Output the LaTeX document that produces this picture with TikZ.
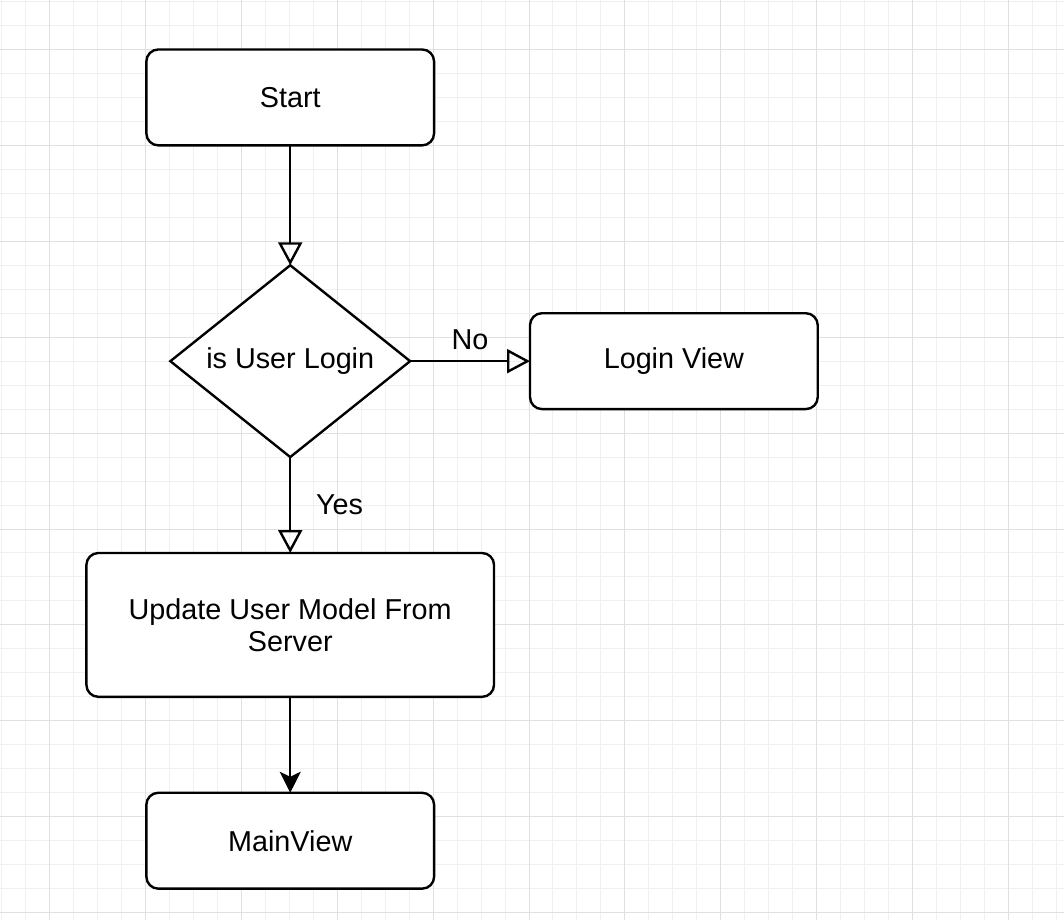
\documentclass[tikz,border=0pt]{standalone}
\usepackage{fontspec}
\setmainfont{Liberation Sans}
\usetikzlibrary{positioning,shapes.geometric,arrows.meta}

\begin{document}
\begin{tikzpicture}[x=0.5pt,y=-0.5pt,font=\fontsize{14.4pt}{16pt}\selectfont]%
  \tikzstyle{boxn}=[rectangle,rounded corners=6pt,draw,line width=1.2pt,fill=white,outer sep=0pt,minimum width=144pt,minimum height=48pt,inner sep=2]
  \tikzstyle{decn}=[diamond,draw,line width=1.2pt,fill=white,outer sep=0pt,aspect=1.25,minimum width=120pt,minimum height=96pt,inner sep=0]
  \tikzstyle{flow}=[line width=1.2pt,-{Triangle[open,length=11.5pt,width=12pt]}]
  \tikzstyle{flowf}=[line width=1.2pt,-{Stealth[length=10.5pt,width=10.5pt,inset=2.5pt]}]
  \tikzstyle{minor}=[black!6,line width=0.5pt]
  \tikzstyle{major}=[black!12,line width=0.5pt]
  % grid
  \fill[white] (0,0) rectangle (1064,920);
  \foreach \g in {1,25,...,1064} {\draw[minor] (\g,0) -- (\g,920);}
  \foreach \g in {1,25,...,920} {\draw[minor] (0,\g) -- (1064,\g);}
  \foreach \g in {49,145,...,1064} {\draw[major] (\g,0) -- (\g,920);}
  \foreach \g in {49,145,...,920} {\draw[major] (0,\g) -- (1064,\g);}
  \useasboundingbox (0,0) rectangle (1064,920);
  % flow
  \node(start)[boxn] at (290,97) {Start};
  \node(login)[decn,below=60pt of start] {is User Login};
  \node(loginview)[boxn,right=60pt of login] {Login View};
  \node(update)[boxn,below=48pt of login,minimum width=204pt,minimum height=72pt,align=center] {Update User Model From\\Server};
  \node(mainview)[boxn,below=48pt of update] {MainView};
  \draw[flow] (start) -- (login);
  \draw[flow] (login) -- node[above=2pt]{No} (loginview);
  \draw[flow] (login) -- node[right=9pt]{Yes} (update);
  \draw[flowf] (update) -- (mainview);
\end{tikzpicture}
\end{document}
